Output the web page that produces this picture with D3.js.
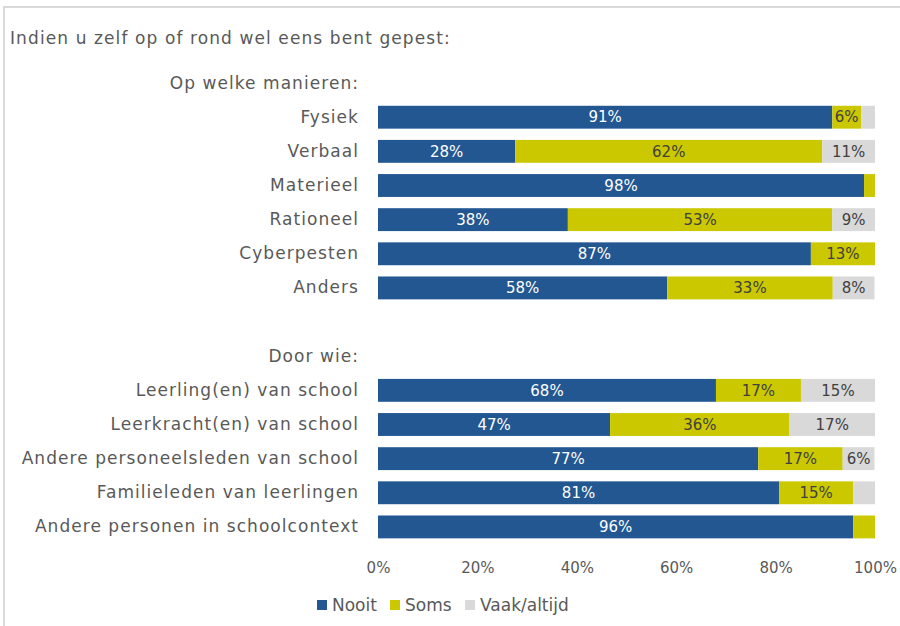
<!DOCTYPE html>
<html><head><meta charset="utf-8">
<script src="https://cdn.jsdelivr.net/npm/d3@7"></script>
<style>body{margin:0;background:#fff}svg{display:block}text{font-family:"DejaVu Sans",sans-serif}</style>
</head><body>
<svg id="chart" width="900" height="626"></svg>
<script>
const title = "Indien u zelf op of rond wel eens bent gepest:";
const categories = ["Op welke manieren:", "Fysiek", "Verbaal", "Materieel", "Rationeel", "Cyberpesten", "Anders", "", "Door wie:", "Leerling(en) van school", "Leerkracht(en) van school", "Andere personeelsleden van school", "Familieleden van leerlingen", "Andere personen in schoolcontext"];
const nooit = [null, 91.4, 27.6, 97.8, 38.2, 87.1, 58.2, null, null, 68.0, 46.7, 76.5, 80.7, 95.6];
const soms  = [null, 5.8, 61.8, 2.2, 53.2, 12.9, 33.3, null, null, 17.1, 36.1, 17.0, 14.9, 4.4];
const vaak  = [null, 2.8, 10.6, 0, 8.6, 0, 8.4, null, null, 14.9, 17.2, 6.4, 4.4, 0];
const seriesNames = ["Nooit", "Soms", "Vaak/altijd"];
const colors = ["#225792", "#cbc800", "#d9d9d9"];
const labelColors = ["#ffffff", "#404040", "#404040"];
const ticks = [0, 20, 40, 60, 80, 100];

const svg = d3.select("#chart");
svg.append("line").attr("x1",3).attr("x2",900).attr("y1",7).attr("y2",7).attr("stroke","#d9d9d9").attr("stroke-width",2);
svg.append("line").attr("x1",4).attr("x2",4).attr("y1",6).attr("y2",626).attr("stroke","#d9d9d9").attr("stroke-width",2);

svg.append("text").attr("x",10).attr("y",44).attr("font-size",17).attr("letter-spacing","1.1px").attr("fill","#595959").text(title);

const x = d3.scaleLinear().domain([0,100]).range([378,875]);
const y = d3.scaleBand().domain(d3.range(categories.length)).range([66,544]).paddingInner(0.33).paddingOuter(0.165);

const rows = categories.map((c,i)=>({i, vals:[nooit[i], soms[i], vaak[i]]}));
const segs = [];
rows.forEach(r=>{
  if (r.vals[0]==null) return;
  let acc = 0;
  r.vals.forEach((v,k)=>{ segs.push({i:r.i, k, v, x0:acc, x1:acc+v}); acc+=v; });
});
const g = svg.append("g");
g.selectAll("rect").data(segs.filter(d=>d.v>0)).join("rect")
  .attr("x",d=>x(d.x0)).attr("width",d=>x(d.x1)-x(d.x0))
  .attr("y",d=>y(d.i)).attr("height",y.bandwidth())
  .attr("fill",d=>colors[d.k]);
g.selectAll("text.val").data(segs.filter(d=>d.v>=5)).join("text").attr("class","val")
  .attr("x",d=>x((d.x0+d.x1)/2)).attr("y",d=>y(d.i)+y.bandwidth()/2)
  .attr("dy","0.35em").attr("text-anchor","middle").attr("font-size",15)
  .attr("font-family",'"DejaVu Sans Condensed",sans-serif')
  .attr("fill",d=>labelColors[d.k]).text(d=>Math.round(d.v)+"%");

const yAxis = d3.axisLeft(y).tickSize(0).tickPadding(19).tickFormat(i=>categories[i]);
const ya = svg.append("g").attr("transform","translate(378,0)").call(yAxis);
ya.select(".domain").remove();
ya.selectAll("text").attr("font-size",17).attr("letter-spacing","1.05px").attr("fill","#595959").attr("font-family",'"DejaVu Sans",sans-serif');

const xAxis = d3.axisBottom(x).tickValues(ticks).tickSize(0).tickPadding(0).tickFormat(d=>d+"%");
const xa = svg.append("g").attr("transform","translate(0,562)").call(xAxis);
xa.select(".domain").remove();
xa.selectAll("text").attr("font-size",15).attr("fill","#595959").attr("font-family",'"DejaVu Sans Condensed",sans-serif');

const legX = [317, 390, 465];
const lg = svg.append("g");
seriesNames.forEach((n,k)=>{
  lg.append("rect").attr("x",legX[k]).attr("y",600).attr("width",10).attr("height",10).attr("fill",colors[k]);
  lg.append("text").attr("x",legX[k]+15).attr("y",605).attr("dy","0.35em").attr("font-size",17).attr("fill","#595959").text(n);
});
</script>
</body></html>
